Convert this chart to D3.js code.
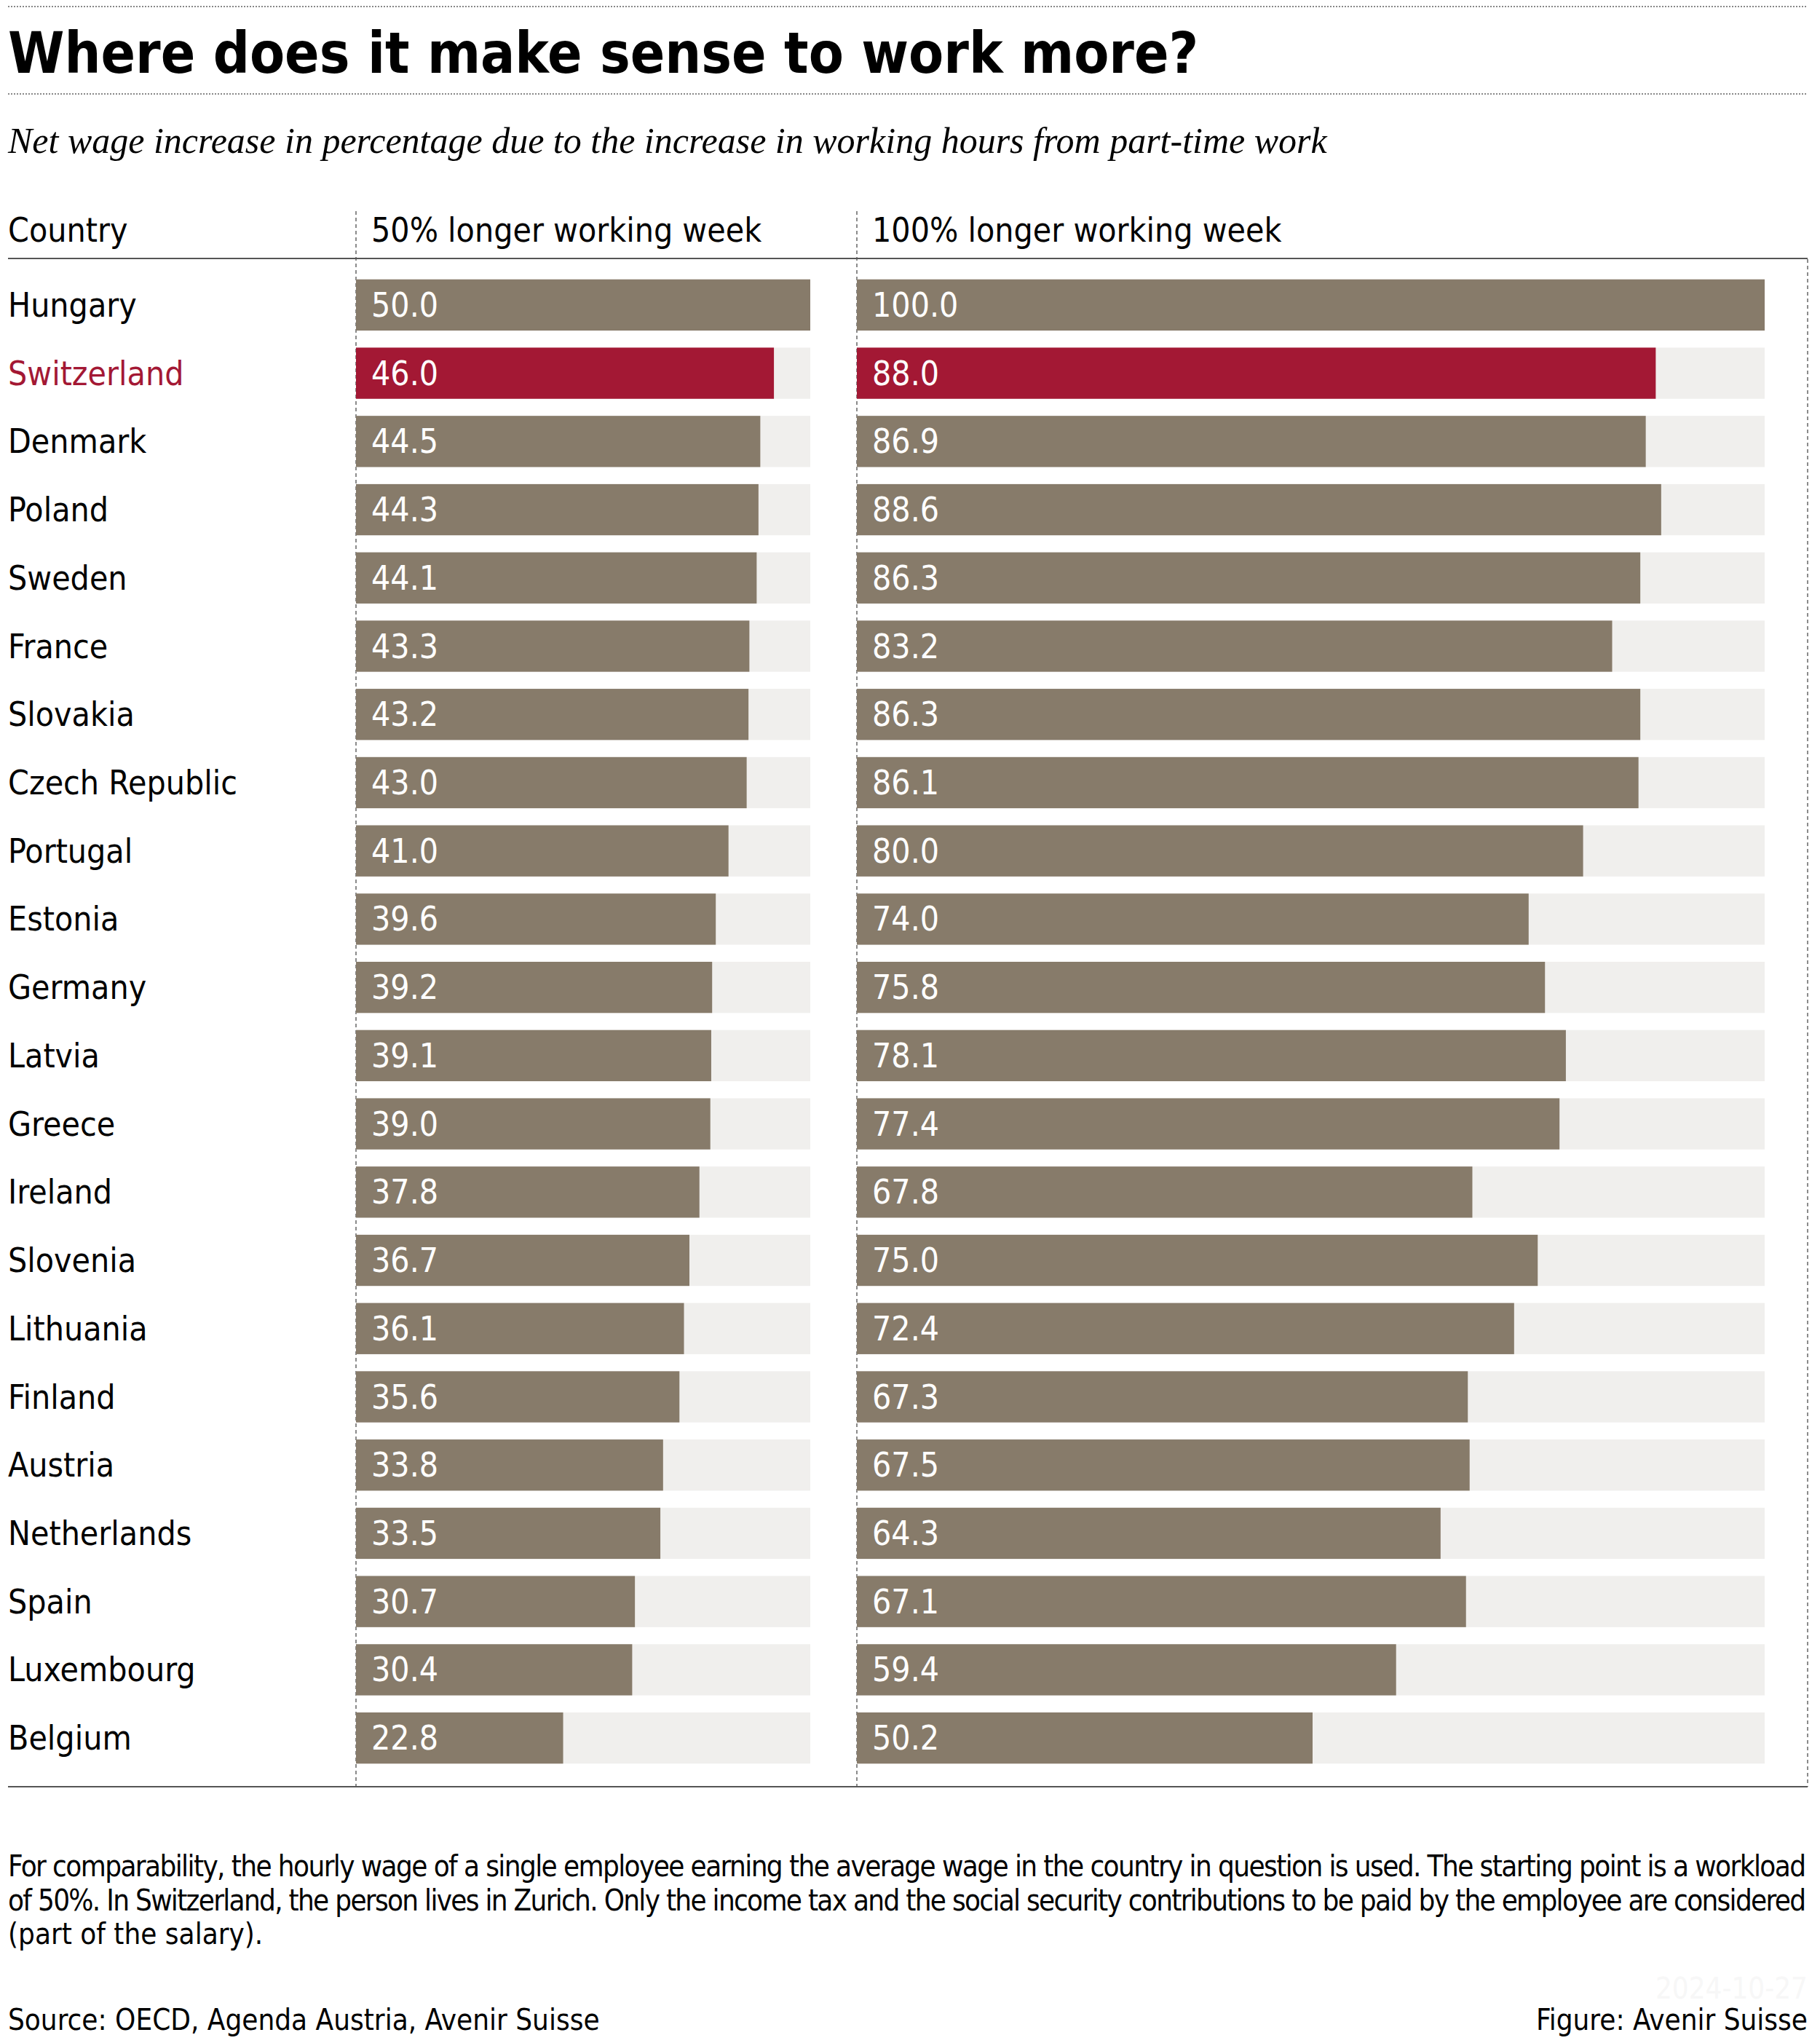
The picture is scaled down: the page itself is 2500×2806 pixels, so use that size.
<!DOCTYPE html>
<html><head><meta charset="utf-8">
<script src="https://cdn.jsdelivr.net/npm/d3@7"></script>
<style>body{margin:0;background:#fff}</style>
</head><body><div id="chart"></div>
<script>
var countries = ["Hungary","Switzerland","Denmark","Poland","Sweden","France","Slovakia","Czech Republic","Portugal","Estonia","Germany","Latvia","Greece","Ireland","Slovenia","Lithuania","Finland","Austria","Netherlands","Spain","Luxembourg","Belgium"];
var longer50 = [50.0,46.0,44.5,44.3,44.1,43.3,43.2,43.0,41.0,39.6,39.2,39.1,39.0,37.8,36.7,36.1,35.6,33.8,33.5,30.7,30.4,22.8];
var longer100 = [100.0,88.0,86.9,88.6,86.3,83.2,86.3,86.1,80.0,74.0,75.8,78.1,77.4,67.8,75.0,72.4,67.3,67.5,64.3,67.1,59.4,50.2];
var highlight = "Switzerland";

var W = 2500, H = 2806;
var font = "'Liberation Sans Narrow','DejaVu Sans Condensed',sans-serif";
var brown = "#877b6a", red = "#a31834", track = "#f0efed";

var svg = d3.select("#chart").append("svg").attr("width", W).attr("height", H)
    .style("font-family", font);

// dotted rules round the title
[9, 129].forEach(function (y) {
  svg.append("line").attr("x1", 11).attr("x2", 2483).attr("y1", y).attr("y2", y)
    .attr("stroke", "#888").attr("stroke-width", 2).attr("stroke-dasharray", "2,2");
});
svg.append("text").attr("x", 11).attr("y", 100).attr("font-size", 78).attr("font-weight", "bold")
  .text("Where does it make sense to work more?");
svg.append("text").attr("x", 11).attr("y", 210).attr("font-size", 50).attr("font-style", "italic")
  .attr("font-family", "'Liberation Serif',serif")
  .text("Net wage increase in percentage due to the increase in working hours from part-time work");

var y = d3.scaleBand().domain(countries).range([372, 2434]).paddingInner(0.25).paddingOuter(0.125);
var x1 = d3.scaleLinear().domain([0, 50]).range([489, 1113]);
var x2 = d3.scaleLinear().domain([0, 100]).range([1177, 2424]);

// headers
svg.append("text").attr("x", 11).attr("y", 332).attr("font-size", 46).text("Country");
svg.append("text").attr("x", 510).attr("y", 332).attr("font-size", 46).text("50% longer working week");
svg.append("text").attr("x", 1198).attr("y", 332).attr("font-size", 46).text("100% longer working week");

[489, 1177, 2483].forEach(function (x) {
  svg.append("line").attr("x1", x).attr("x2", x).attr("y1", x === 2483 ? 356 : 290).attr("y2", 2454)
    .attr("stroke", "#666").attr("stroke-width", 1.5).attr("stroke-dasharray", "5,4");
});
svg.append("line").attr("x1", 11).attr("x2", 2483).attr("y1", 355).attr("y2", 355).attr("stroke", "#555").attr("stroke-width", 2);
svg.append("line").attr("x1", 11).attr("x2", 2483).attr("y1", 2454).attr("y2", 2454).attr("stroke", "#555").attr("stroke-width", 2);

// country labels
svg.append("g").selectAll("text").data(countries).join("text")
  .attr("x", 11).attr("y", function (d) { return y(d) + y.bandwidth() / 2 + 16; })
  .attr("font-size", 46).attr("fill", function (d) { return d === highlight ? red : "#000"; })
  .text(function (d) { return d; });

function drawColumn(values, x) {
  var g = svg.append("g");
  var rows = countries.map(function (c, i) { return {c: c, v: values[i]}; });
  g.selectAll("rect.track").data(rows).join("rect").attr("class", "track")
    .attr("x", x(0)).attr("y", function (d) { return y(d.c); })
    .attr("width", x(x.domain()[1]) - x(0)).attr("height", y.bandwidth()).attr("fill", track);
  g.selectAll("rect.bar").data(rows).join("rect").attr("class", "bar")
    .attr("x", x(0)).attr("y", function (d) { return y(d.c); })
    .attr("width", function (d) { return x(d.v) - x(0); }).attr("height", y.bandwidth())
    .attr("fill", function (d) { return d.c === highlight ? red : brown; });
  g.selectAll("text").data(rows).join("text")
    .attr("x", x(0) + 21).attr("y", function (d) { return y(d.c) + y.bandwidth() / 2 + 16; })
    .attr("font-size", 46).attr("fill", "#fff")
    .text(function (d) { return d.v.toFixed(1); });
}
drawColumn(longer50, x1);
drawColumn(longer100, x2);

// footnote
["For comparability, the hourly wage of a single employee earning the average wage in the country in question is used. The starting point is a workload",
 "of 50%. In Switzerland, the person lives in Zurich. Only the income tax and the social security contributions to be paid by the employee are considered",
 "(part of the salary)."].forEach(function (t, i) {
  svg.append("text").attr("x", 11).attr("y", 2577 + i * 46.5).attr("font-size", 40)
    .attr("textLength", i < 2 ? 2470 : null).attr("lengthAdjust", "spacing").text(t);
});
svg.append("text").attr("x", 11).attr("y", 2788).attr("font-size", 40).text("Source: OECD, Agenda Austria, Avenir Suisse");
svg.append("text").attr("x", 2483).attr("y", 2788).attr("font-size", 40).attr("text-anchor", "end").text("Figure: Avenir Suisse");
svg.append("text").attr("x", 2483).attr("y", 2745).attr("font-size", 40).attr("text-anchor", "end").attr("fill", "#f7f7f7").text("2024-10-27");
</script></body></html>
